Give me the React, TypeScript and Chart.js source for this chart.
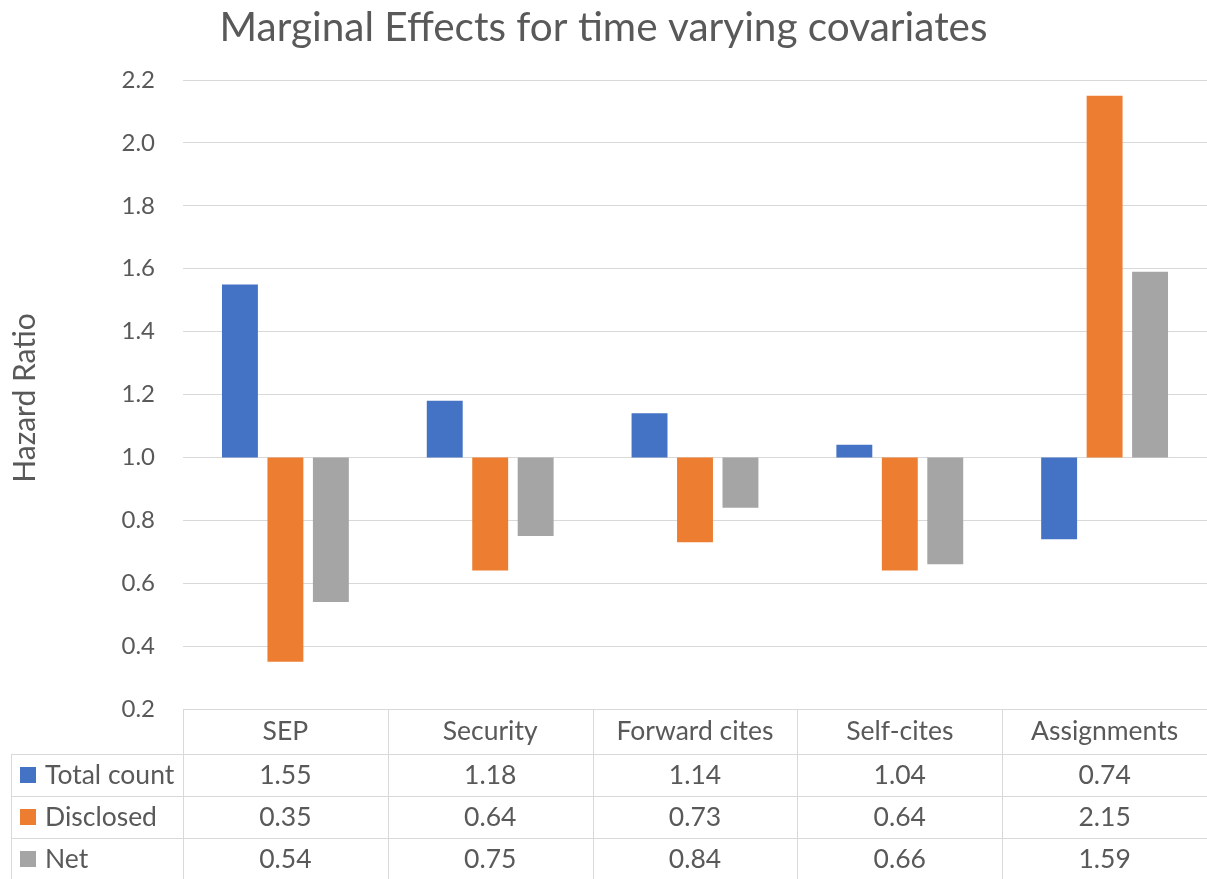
import React, { useEffect, useRef } from "react";
import { Chart, registerables } from "chart.js";

Chart.register(...registerables);

const titleText = "Marginal Effects for time varying covariates";
const yAxisTitle = "Hazard Ratio";
const categories = ["SEP", "Security", "Forward cites", "Self-cites", "Assignments"];
const seriesNames = ["Total count", "Disclosed", "Net"];
const totalCount = [1.55, 1.18, 1.14, 1.04, 0.74];
const disclosed = [0.35, 0.64, 0.73, 0.64, 2.15];
const net = [0.54, 0.75, 0.84, 0.66, 1.59];
const seriesColors = ["#4472C4", "#ED7D31", "#A5A5A5"];
const baseline = 1.0;
const yMin = 0.2;
const yMax = 2.2;
const yStep = 0.2;

const FONT = "Lato";
const TEXT = "#595959";
const LINE = "#d9d9d9";

const allSeries = [totalCount, disclosed, net];

const tablePlugin = {
  id: "tableAndTitles",
  afterDraw(chart: any) {
    const { ctx, chartArea } = chart;
    const x = chart.scales.x;
    const W = chart.width;
    ctx.save();
    // title
    ctx.fillStyle = TEXT;
    ctx.font = `40.5px ${FONT}`;
    ctx.textAlign = "center";
    ctx.textBaseline = "middle";
    ctx.fillText(titleText, W / 2, 28);
    // y axis title
    ctx.save();
    ctx.translate(25, 398);
    ctx.rotate(-Math.PI / 2);
    ctx.font = `30px ${FONT}`;
    ctx.fillText(yAxisTitle, 0, 0);
    ctx.restore();

    // table
    const colW = x.width / categories.length;
    const top = Math.round(chartArea.bottom);
    const headerH = 45;
    const rowH = 42;
    const tableLeft = 11;
    const rowsY = [top + headerH, top + headerH + rowH, top + headerH + 2 * rowH, top + headerH + 3 * rowH];
    const tableBottom = rowsY[3];
    ctx.strokeStyle = LINE;
    ctx.lineWidth = 1;
    ctx.beginPath();
    for (let i = 0; i <= categories.length; i++) {
      const cx = Math.round(x.getPixelForValue(0) - colW / 2 + i * colW) + 0.5;
      ctx.moveTo(cx, top);
      ctx.lineTo(cx, tableBottom);
    }
    ctx.moveTo(tableLeft + 0.5, rowsY[0]);
    ctx.lineTo(tableLeft + 0.5, tableBottom);
    ctx.moveTo(Math.round(chartArea.left), top + 0.5);
    ctx.lineTo(chartArea.right, top + 0.5);
    for (const ry of rowsY) {
      ctx.moveTo(tableLeft, ry + 0.5);
      ctx.lineTo(chartArea.right, ry + 0.5);
    }
    ctx.stroke();

    ctx.fillStyle = TEXT;
    ctx.font = `26.5px ${FONT}`;
    ctx.textAlign = "center";
    ctx.textBaseline = "middle";
    categories.forEach((c, i) => {
      ctx.fillText(c, x.getPixelForValue(i), top + headerH / 2);
    });
    allSeries.forEach((s, si) => {
      const cy = rowsY[si] + rowH / 2;
      s.forEach((v, i) => {
        ctx.fillStyle = TEXT;
        ctx.textAlign = "center";
        ctx.fillText(v.toFixed(2), x.getPixelForValue(i), cy);
      });
      ctx.fillStyle = seriesColors[si];
      ctx.fillRect(20, cy - 8, 16, 16);
      ctx.fillStyle = TEXT;
      ctx.textAlign = "left";
      ctx.fillText(seriesNames[si], 45, cy);
    });
    ctx.restore();
  },
};

export default function App() {
  const ref = useRef<HTMLCanvasElement | null>(null);
  useEffect(() => {
    document.body.style.margin = "0";
    if (!ref.current) return;
    const chart = new Chart(ref.current, {
      type: "bar",
      data: {
        labels: categories,
        datasets: allSeries.map((s, i) => ({
          label: seriesNames[i],
          data: s.map((v) => [baseline, v] as [number, number]),
          backgroundColor: seriesColors[i],
          borderWidth: 0,
          categoryPercentage: 0.666,
          barPercentage: 0.79,
        })),
      },
      options: {
        animation: false,
        responsive: false,
        events: [],
        layout: { padding: { top: 80, bottom: 170, left: 0, right: 0 } },
        plugins: {
          legend: { display: false },
          tooltip: { enabled: false },
          title: { display: false },
        },
        scales: {
          x: { display: false },
          y: {
            min: yMin,
            max: yMax,
            afterFit(scale: any) {
              scale.width = 183;
            },
            ticks: {
              stepSize: yStep,
              padding: 28,
              color: TEXT,
              font: { family: FONT, size: 24 },
              callback: (v: any) => Number(v).toFixed(1),
            },
            grid: { color: LINE, lineWidth: 1, drawTicks: false },
            border: { display: false },
          },
        },
      },
      plugins: [tablePlugin],
    });
    return () => chart.destroy();
  }, []);
  return (
    <div style={{ width: 1207, height: 879 }}>
      <canvas ref={ref} width={1207} height={879} style={{ display: "block" }} />
    </div>
  );
}
